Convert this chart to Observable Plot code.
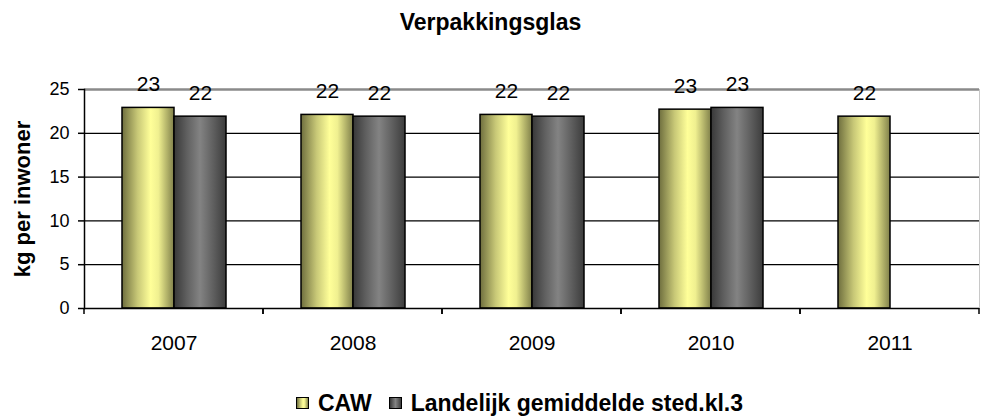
<!DOCTYPE html>
<html><head><meta charset="utf-8">
<script src="https://cdn.jsdelivr.net/npm/d3@7"></script>
<script src="https://cdn.jsdelivr.net/npm/@observablehq/plot@0.6"></script>
<style>
body{margin:0;background:#fff;font-family:"Liberation Sans",Arial,sans-serif;overflow:hidden;width:981px;height:416px}
#title{height:45px;line-height:45px;text-align:center;font-weight:bold;font-size:23px;width:981px;color:#000}
#chart svg{display:block}
#legend{height:26px;line-height:26px;padding-top:25px;padding-left:296px;display:flex;align-items:center;font-weight:bold;font-size:23px;color:#000;white-space:nowrap}
.sw{width:11px;height:10px;border:1px solid #000;margin-right:9px;flex:none}
.item{display:flex;align-items:center;margin-right:17px}
</style></head><body>
<div id="title"></div>
<div id="chart"></div>
<div id="legend"></div>
<script>
const title = "Verpakkingsglas";
const yLabel = "kg per inwoner";
const years = ["2007", "2008", "2009", "2010", "2011"];
const seriesNames = ["CAW", "Landelijk gemiddelde sted.kl.3"];
const caw = [22.9, 22.1, 22.1, 22.7, 21.9];
const landelijk = [21.9, 21.9, 21.9, 22.9, null];
const yTicks = [0, 5, 10, 15, 20, 25];
const gridValues = [5, 10, 15, 20];

const rows = [];
years.forEach((yr, i) => {
  if (caw[i] != null) rows.push({year: yr, series: seriesNames[0], value: caw[i]});
  if (landelijk[i] != null) rows.push({year: yr, series: seriesNames[1], value: landelijk[i]});
});

const gradCAW = [["0%", "#6e6e3e"], ["30%", "#c8c877"], ["55%", "#ffff99"], ["70%", "#f0f090"], ["100%", "#80804a"]];
const gradLand = [["0%", "#383838"], ["25%", "#606060"], ["50%", "#838383"], ["75%", "#606060"], ["100%", "#3c3c3c"]];

const defsMark = () => {
  const ns = "http://www.w3.org/2000/svg";
  const defs = document.createElementNS(ns, "defs");
  const mk = (id, stops) => {
    const lg = document.createElementNS(ns, "linearGradient");
    lg.setAttribute("id", id);
    lg.setAttribute("x1", "0"); lg.setAttribute("x2", "1");
    lg.setAttribute("y1", "0"); lg.setAttribute("y2", "0");
    stops.forEach(([o, c]) => {
      const s = document.createElementNS(ns, "stop");
      s.setAttribute("offset", o); s.setAttribute("stop-color", c);
      lg.appendChild(s);
    });
    defs.appendChild(lg);
  };
  mk("gCAW", gradCAW);
  mk("gLand", gradLand);
  return defs;
};

const catTicks = (index, scales, values, dims) => {
  const g = d3.create("svg:g").attr("stroke", "black").attr("stroke-width", 1.5);
  const y0 = scales.y(0);
  const xl = dims.marginLeft, xr = dims.width - dims.marginRight;
  g.append("line").attr("x1", xl).attr("x2", xl).attr("y1", y0).attr("y2", y0 + 6);
  g.append("line").attr("x1", xr).attr("x2", xr).attr("y1", y0).attr("y2", y0 + 6);
  return g.node();
};

document.getElementById("title").textContent = title;

const chart = Plot.plot({
  width: 981,
  height: 320,
  marginTop: 44,
  marginBottom: 57,
  marginLeft: 84,
  marginRight: 2,
  style: {fontFamily: "Liberation Sans, Arial, sans-serif", fontSize: "18px", color: "black", background: "white"},
  fx: {domain: years, padding: 0, label: null},
  x: {domain: seriesNames, paddingInner: 0, paddingOuter: 0.705, axis: null},
  y: {domain: [0, 25]},
  marks: [
    defsMark,
    Plot.ruleY(gridValues, {stroke: "black", strokeWidth: 1.3}),
    Plot.ruleY([25], {stroke: "#8a8a8a", strokeWidth: 2.5}),
    Plot.frame({anchor: "right", facetAnchor: "right", stroke: "#c8c8c8"}),
    Plot.barY(rows.filter(d => d.series === seriesNames[0]), {fx: "year", x: "series", y: "value", fill: "url(#gCAW)", stroke: "black", strokeWidth: 1.5}),
    Plot.barY(rows.filter(d => d.series === seriesNames[1]), {fx: "year", x: "series", y: "value", fill: "url(#gLand)", stroke: "black", strokeWidth: 1.5}),
    Plot.text(rows, {fx: "year", x: "series", y: "value", text: d => String(Math.round(d.value)), lineAnchor: "bottom", dy: -17, fontSize: 21, fill: "black"}),
    Plot.ruleY([0], {stroke: "black", strokeWidth: 1.5}),
    Plot.frame({anchor: "left", facetAnchor: "left", stroke: "black", strokeWidth: 1.5}),
    catTicks,
    Plot.axisY({ticks: yTicks, tickSize: 6, tickPadding: 9, label: null, fontSize: 18, strokeWidth: 1.5}),
    Plot.axisFx({anchor: "bottom", tickSize: 0, tickPadding: 27, fontSize: 21, label: null}),
    Plot.text([yLabel], {frameAnchor: "left", facetAnchor: "left", textAnchor: "middle", lineAnchor: "middle", rotate: -90, dx: -62, fontSize: 22, fontWeight: "bold", fill: "black"})
  ]
});
document.getElementById("chart").appendChild(chart);

const legend = document.getElementById("legend");
const swatchBg = [
  "linear-gradient(to right," + gradCAW.map(([o, c]) => c + " " + o).join(",") + ")",
  "linear-gradient(to right," + gradLand.map(([o, c]) => c + " " + o).join(",") + ")"
];
seriesNames.forEach((name, i) => {
  const item = document.createElement("div");
  item.className = "item";
  const sw = document.createElement("div");
  sw.className = "sw";
  sw.style.background = swatchBg[i];
  const t = document.createElement("span");
  t.textContent = name;
  item.appendChild(sw); item.appendChild(t);
  legend.appendChild(item);
});
</script>
</body></html>
